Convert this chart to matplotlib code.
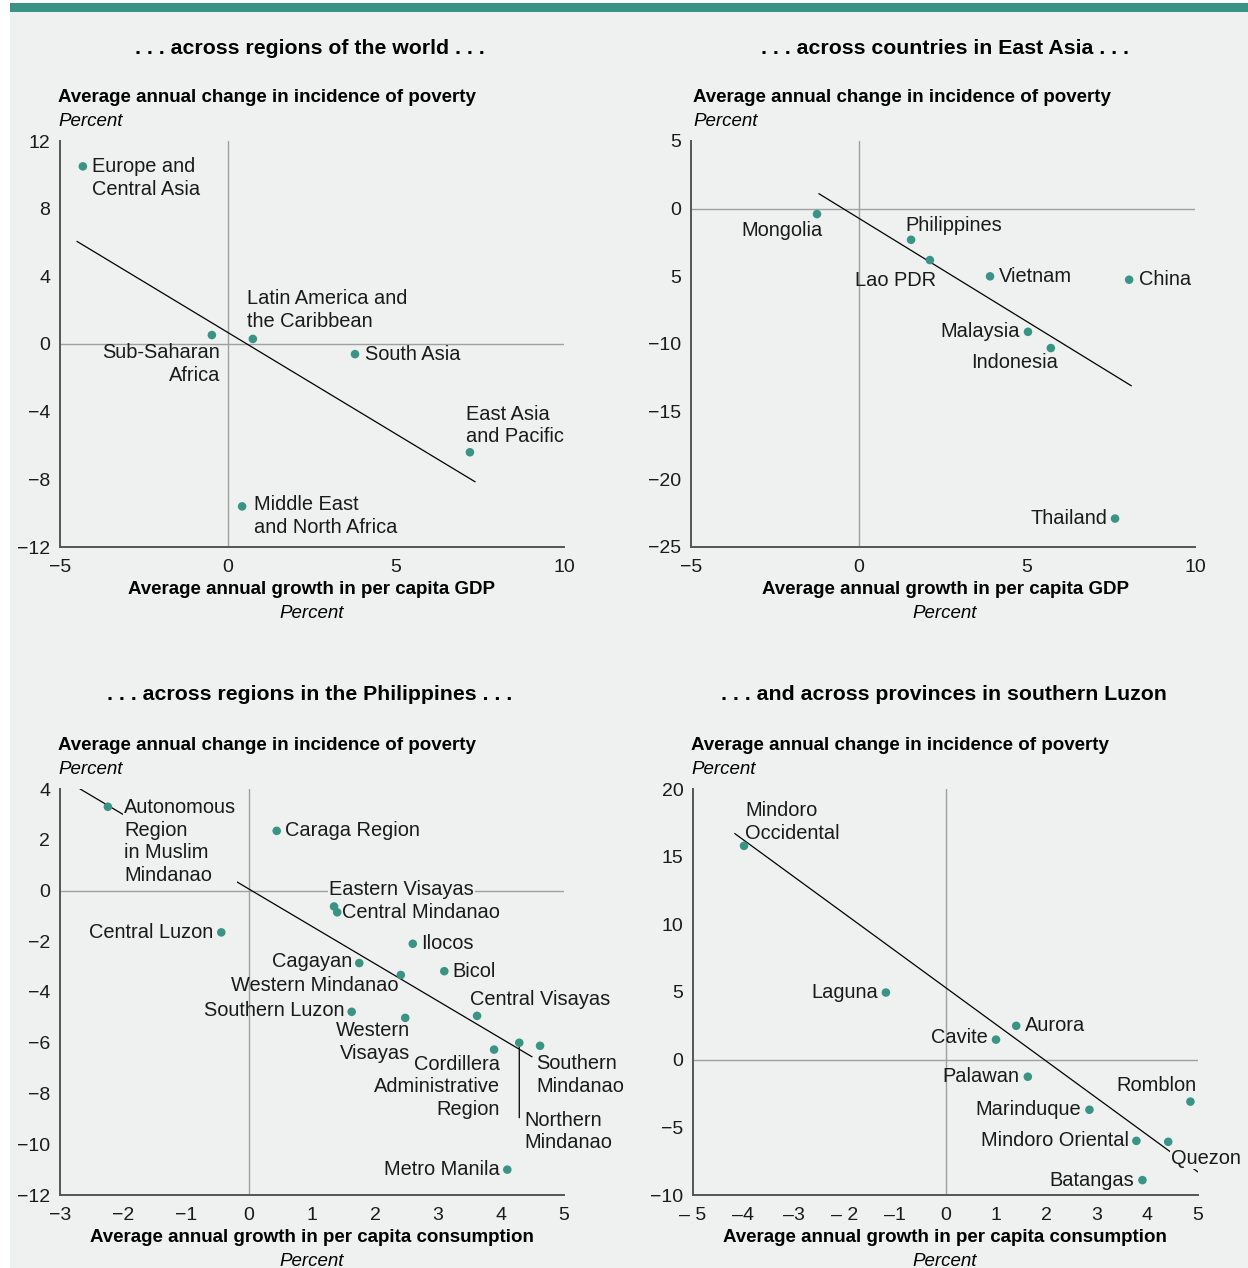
#importing libraries
import matplotlib.pyplot as plt
from matplotlib.patches import Rectangle

plt.rcParams['font.family'] = ['Liberation Sans', 'DejaVu Sans']

#data
world_names = ["Europe and\nCentral Asia", "Sub-Saharan\nAfrica", "Latin America and\nthe Caribbean",
               "South Asia", "East Asia\nand Pacific", "Middle East\nand North Africa"]
world_x = [-4.32, -0.48, 0.74, 3.78, 7.2, 0.42]
world_y = [10.5, 0.53, 0.3, -0.6, -6.4, -9.6]
world_fit_x = [-4.49, 7.35]
world_fit_y = [6.06, -8.14]

ea_names = ["Mongolia", "Philippines", "Lao PDR", "Vietnam", "China", "Malaysia", "Indonesia", "Thailand"]
ea_x = [-1.25, 1.55, 2.11, 3.9, 8.04, 5.03, 5.71, 7.62]
ea_y = [-0.4, -2.3, -3.8, -5.0, -5.25, -9.1, -10.3, -22.9]
ea_fit_x = [-1.19, 8.1]
ea_fit_y = [1.1, -13.08]

ph_names = ["Autonomous\nRegion\nin Muslim\nMindanao", "Caraga Region", "Eastern Visayas", "Central Mindanao",
            "Central Luzon", "Ilocos", "Cagayan", "Bicol", "Western Mindanao", "Southern Luzon",
            "Western\nVisayas", "Central Visayas", "Cordillera\nAdministrative\nRegion", "Northern\nMindanao",
            "Southern\nMindanao", "Metro Manila"]
ph_x = [-2.24, 0.44, 1.35, 1.40, -0.44, 2.6, 1.75, 3.1, 2.41, 1.63, 2.48, 3.62, 3.89, 4.29, 4.62, 4.1]
ph_y = [3.3, 2.35, -0.63, -0.86, -1.65, -2.1, -2.86, -3.18, -3.33, -4.78, -5.02, -4.94, -6.27, -6.0, -6.12, -11.0]
ph_fit_x = [-2.68, 4.49]
ph_fit_y = [4.0, -6.55]

lz_names = ["Mindoro\nOccidental", "Laguna", "Aurora", "Cavite", "Palawan", "Romblon", "Marinduque",
            "Mindoro Oriental", "Quezon", "Batangas"]
lz_x = [-3.99, -1.18, 1.4, 1.0, 1.63, 4.85, 2.85, 3.78, 4.41, 3.9]
lz_y = [15.8, 4.96, 2.5, 1.48, -1.26, -3.1, -3.7, -6.0, -6.07, -8.9]
lz_fit_x = [-4.17, 5.0]
lz_fit_y = [16.7, -8.3]

M = '\u2212'
world_yticks = [-12, -8, -4, 0, 4, 8, 12]
world_xticks = [-5, 0, 5, 10]
ea_yticks = [-25, -20, -15, -10, -5, 0, 5]
ea_ylabels = [M + "25", M + "20", M + "15", M + "10", "5", "0", "5"]
ph_yticks = [-12, -10, -8, -6, -4, -2, 0, 2, 4]
ph_xticks = [-3, -2, -1, 0, 1, 2, 3, 4, 5]
lz_yticks = [-10, -5, 0, 5, 10, 15, 20]
lz_xticks = [-5, -4, -3, -2, -1, 0, 1, 2, 3, 4, 5]
lz_xlabels = ["\u2013 5", "\u20134", "\u20133", "\u2013 2", "\u20131", "0", "1", "2", "3", "4", "5"]

#label placement (ha, va, dx, dy in pixels, boxed)
world_pos = [("left", "top", 9, 9, 0), ("right", "top", 8, -8, 0), ("left", "bottom", -6, 8, 0),
             ("left", "center", 10, 0, 0), ("left", "bottom", -4, 6, 0), ("left", "top", 12, 11, 0)]
ea_pos = [("right", "top", 6, -7, 0), ("left", "bottom", -6, 5, 0), ("right", "top", 6, -11, 0),
          ("left", "center", 9, 0, 0), ("left", "center", 10, 0, 0), ("right", "center", -8, 0, 0),
          ("right", "top", 7, -5, 0), ("right", "center", -8, 0, 0)]
ph_pos = [("left", "top", 16, 9, 1), ("left", "center", 8, 0, 0), ("left", "bottom", -5, 7, 1),
          ("left", "center", 5, 0, 0), ("right", "center", -8, 0, 0), ("left", "center", 8, 0, 0),
          ("right", "center", -7, 2, 0), ("left", "center", 8, 0, 0), ("right", "center", -2, -11, 0),
          ("right", "center", -7, 1, 0), ("right", "top", 5, -3, 0), ("left", "bottom", -7, 7, 0),
          ("right", "top", 6, -5, 0), ("left", "top", 5, -68, 0), ("left", "top", -4, -8, 0),
          ("right", "center", -8, 0, 0)]
lz_pos = [("left", "bottom", 1, 3, 0), ("right", "center", -8, 0, 0), ("left", "center", 9, 0, 0),
          ("right", "center", -8, 2, 0), ("right", "center", -8, 0, 0), ("right", "bottom", 6, 7, 0),
          ("right", "center", -8, 0, 0), ("right", "center", -7, 0, 0), ("left", "top", 3, -7, 1),
          ("right", "center", -8, 0, 0)]

W, H = 1248, 1268
BG = '#eef1f0'
TEAL = '#3a9486'
FS = 13.5      # axis titles
FL = 14.4      # point labels
FT = 14        # tick labels

fig = plt.figure(figsize=(W / 100, H / 100), dpi=100, facecolor='white')
fig.patches.append(Rectangle((10 / W, 0), 1 - 10 / W, 1 - 12 / H, transform=fig.transFigure,
                             facecolor=BG, edgecolor='none', zorder=-10))
fig.patches.append(Rectangle((10 / W, 1 - 12 / H), 1 - 10 / W, 9 / H, transform=fig.transFigure,
                             facecolor=TEAL, edgecolor='none', zorder=-10))


def px_axes(x0, y0, x1, y1):
    return fig.add_axes([x0 / W, 1 - y1 / H, (x1 - x0) / W, (y1 - y0) / H])


def panel(ax, names, xs, ys, fx, fy, pos, xlim, ylim):
    ax.set_facecolor('none')
    ax.set_xlim(xlim)
    ax.set_ylim(ylim)
    for s in ['top', 'right']:
        ax.spines[s].set_visible(False)
    for s in ['left', 'bottom']:
        ax.spines[s].set_color('#555555')
        ax.spines[s].set_linewidth(1.4)
    ax.axhline(0, color='#a0a0a0', lw=1, zorder=1)
    ax.axvline(0, color='#a0a0a0', lw=1, zorder=1)
    ax.plot(fx, fy, color='black', lw=0.9, zorder=2)
    ax.scatter(xs, ys, s=38, color=TEAL, edgecolors='none', zorder=5, clip_on=False)
    for n, x, y, (ha, va, dx, dy, box) in zip(names, xs, ys, pos):
        bb = dict(boxstyle='square,pad=0.05', fc=BG, ec='none') if box else None
        ax.annotate(n, (x, y), xytext=(dx, dy), textcoords='offset pixels', ha=ha, va=va,
                    fontsize=FL, linespacing=1.25, bbox=bb, zorder=4, color='#1a1a1a')
    ax.tick_params(length=0, labelsize=FT, colors='#1a1a1a')
    ax.tick_params(axis='y', pad=7)
    ax.tick_params(axis='x', pad=9)


def titles(cx, ty, lx, ly, xt, xty, title, xlabel):
    fig.text(cx / W, 1 - ty / H, title, ha='center', va='center', fontsize=15.3, fontweight='bold')
    fig.text(lx / W, 1 - ly / H, "Average annual change in incidence of poverty", ha='left', va='center',
             fontsize=FS, fontweight='bold')
    fig.text(lx / W, 1 - (ly + 24) / H, "Percent", ha='left', va='center', fontsize=FS, style='italic')
    fig.text(xt / W, 1 - xty / H, xlabel, ha='center', va='center', fontsize=FS, fontweight='bold')
    fig.text(xt / W, 1 - (xty + 24) / H, "Percent", ha='center', va='center', fontsize=FS, style='italic')


#top left
ax1 = px_axes(60, 141, 564, 547)
panel(ax1, world_names, world_x, world_y, world_fit_x, world_fit_y, world_pos, (-5, 10), (-12, 12))
ax1.set_yticks(world_yticks)
ax1.set_xticks(world_xticks)
ax1.set_yticklabels([str(v).replace('-', M) for v in world_yticks])
ax1.set_xticklabels([str(v).replace('-', M) for v in world_xticks])
titles(310, 49, 58, 97, 312, 589, ". . . across regions of the world . . .",
       "Average annual growth in per capita GDP")

#top right
ax2 = px_axes(691, 141, 1195, 547)
panel(ax2, ea_names, ea_x, ea_y, ea_fit_x, ea_fit_y, ea_pos, (-5, 10), (-25, 5))
ax2.set_yticks(ea_yticks)
ax2.set_yticklabels(ea_ylabels)
ax2.set_xticks(world_xticks)
ax2.set_xticklabels([str(v).replace('-', M) for v in world_xticks])
titles(945, 49, 693, 97, 945, 589, ". . . across countries in East Asia . . .",
       "Average annual growth in per capita GDP")

#bottom left
ax3 = px_axes(60, 789, 564, 1195)
panel(ax3, ph_names, ph_x, ph_y, ph_fit_x, ph_fit_y, ph_pos, (-3, 5), (-12, 4))
ax3.set_yticks(ph_yticks)
ax3.set_yticklabels([str(v).replace('-', M) for v in ph_yticks])
ax3.set_xticks(ph_xticks)
ax3.set_xticklabels([str(v).replace('-', M) for v in ph_xticks])
# leader for Northern Mindanao
i = ph_names.index("Northern\nMindanao")
ax3.annotate('', (ph_x[i], ph_y[i]), xytext=(0, -75), textcoords='offset pixels',
             arrowprops=dict(arrowstyle='-', color='black', lw=0.9, shrinkA=0, shrinkB=0))
titles(310, 694, 58, 745, 312, 1237, ". . . across regions in the Philippines . . .",
       "Average annual growth in per capita consumption")

#bottom right
ax4 = px_axes(693, 789, 1198, 1195)
panel(ax4, lz_names, lz_x, lz_y, lz_fit_x, lz_fit_y, lz_pos, (-5, 5), (-10, 20))
ax4.set_yticks(lz_yticks)
ax4.set_yticklabels([str(v).replace('-', M) for v in lz_yticks])
ax4.set_xticks(lz_xticks)
ax4.set_xticklabels(lz_xlabels)
titles(944, 694, 691, 745, 945, 1237, ". . . and across provinces in southern Luzon",
       "Average annual growth in per capita consumption")

fig.savefig("out.png", dpi=100, facecolor='white')
